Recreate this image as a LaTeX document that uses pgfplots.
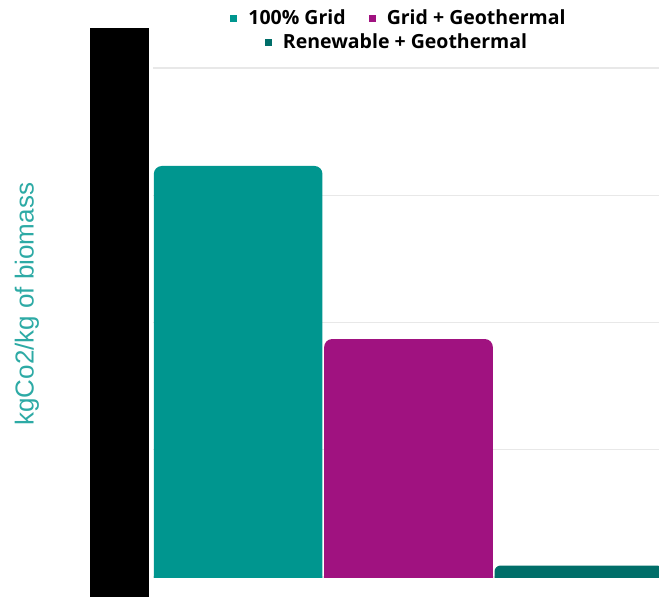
\documentclass[border=0pt]{standalone}
\usepackage{pgfplots}
\pgfplotsset{compat=1.18}
\usepackage{fontspec}
\setmainfont{Liberation Sans}
\newfontfamily\legfont{Open Sans}

\definecolor{gridA}{RGB}{0,150,143}
\definecolor{gridGeo}{RGB}{160,18,128}
\definecolor{renGeo}{RGB}{0,110,105}
\definecolor{labcol}{RGB}{45,170,165}
\definecolor{gridln}{RGB}{232,232,232}

% emissions per kg of biomass for each energy scenario
\pgfplotstableread{
x  y
0  3.23
}\tabGrid
\pgfplotstableread{
x  y
1  1.87
}\tabGridGeo
\pgfplotstableread{
x  y
2  0.09
}\tabRenGeo

\newcommand{\legsq}[1]{\raisebox{3.2pt}{\textcolor{#1}{\rule{7pt}{7pt}}}\hspace{11pt}}

\begin{document}
\begin{tikzpicture}[x=1pt,y=1pt]
\begin{axis}[
  scale only axis, width=511pt, height=636.25pt,
  xmin=-0.5, xmax=2.5, ymin=0, ymax=5,
  % values are lifted by one unit: the bars then start one unit below
  % the visible baseline, so only their top corners show as rounded
  y filter/.expression={y+1},
  ybar, bar width=0.99,
  xtick=\empty, ytick={1,2,3,4,5}, yticklabels={},
  ymajorgrids, grid style={gridln, line width=1.3pt},
  axis line style={draw=none}, major tick style={draw=none},
  ylabel={kgCo2/kg of biomass},
  every axis y label/.style={
    at={(axis description cs:-0.2466,0.6287)}, anchor=center, rotate=90,
    font=\fontsize{26}{30}\selectfont, text=labcol},
  clip=false,
]
\addplot[fill=gridA, draw=none, bar shift=0pt, rounded corners=8pt] table {\tabGrid};
\addplot[fill=gridGeo, draw=none, bar shift=0pt, rounded corners=8pt] table {\tabGridGeo};
\addplot[fill=renGeo, draw=none, bar shift=0pt, rounded corners=6pt] table {\tabRenGeo};
\coordinate (O) at (axis cs:-0.5,1);
\end{axis}

\pgfresetboundingbox
\begin{scope}[shift={(O)}]
  \path[use as bounding box] (-153,-20) rectangle (506,577);
  % white strip below the baseline
  \fill[white] (-2,-140) rectangle (515,-0.7);
  % solid band left of the plot area
  \fill[black] (-63,-20) rectangle (-4,549);
  % legend
  \node[anchor=base, inner sep=0pt, font=\legfont\bfseries\fontsize{19.5}{23}\selectfont]
    at (245,552) {\legsq{gridA}100\% Grid\hspace{23pt}\legsq{gridGeo}Grid + Geothermal};
  \node[anchor=base, inner sep=0pt, font=\legfont\bfseries\fontsize{19.5}{23}\selectfont]
    at (243,528) {\legsq{renGeo}Renewable + Geothermal};
\end{scope}
\end{tikzpicture}
\end{document}
